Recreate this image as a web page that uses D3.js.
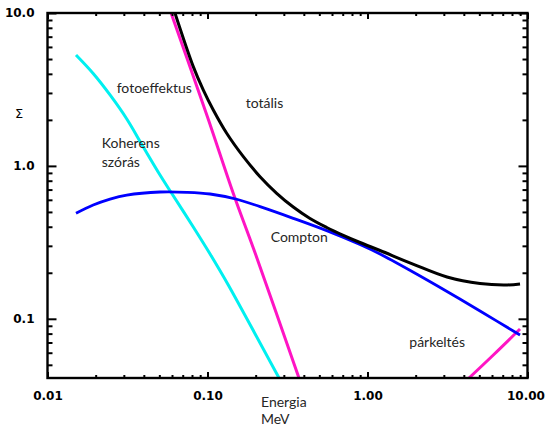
<!DOCTYPE html>
<html>
<head>
<meta charset="utf-8">
<script src="https://cdn.jsdelivr.net/npm/d3@7"></script>
<style>
  html, body { margin: 0; padding: 0; background: #ffffff; }
  svg { display: block; }
</style>
</head>
<body>
<script>
// Energy axis (MeV) and attenuation values (Σ) for each interaction
const comptonE = [0.01507, 0.0193, 0.0246, 0.0313, 0.0505, 0.0741, 0.1038, 0.1523, 0.213, 0.3436, 0.556, 0.8974, 1.197, 1.924, 3.14, 5.05, 8.98];
const comptonV = [0.490, 0.555, 0.607, 0.645, 0.675, 0.672, 0.655, 0.605, 0.541, 0.454, 0.377, 0.306, 0.2653, 0.2023, 0.1509, 0.1125, 0.0783];

const coherentE = [0.01507, 0.0193, 0.0246, 0.0313, 0.0397, 0.0505, 0.0597, 0.0815, 0.1038, 0.1349, 0.280];
const coherentV = [5.31, 4.02, 2.91, 2.026, 1.329, 0.872, 0.662, 0.3986, 0.2653, 0.1663, 0.041];

const photoE = [0.0592, 0.1, 0.145, 0.2, 0.373];
const photoV = [10.0, 2.09, 0.66, 0.263, 0.041];

const pairE = [4.31, 6.14, 8.98];
const pairV = [0.041, 0.0582, 0.0857];

const totalE = [0.0626, 0.0815, 0.0942, 0.1087, 0.1318, 0.1675, 0.213, 0.2707, 0.3436, 0.4372, 0.556, 0.7063, 0.8974, 1.197, 1.924, 3.14, 5.05, 7.23, 8.98];
const totalV = [10.0, 4.46, 3.13, 2.32, 1.634, 1.149, 0.850, 0.662, 0.538, 0.4529, 0.3955, 0.3514, 0.3155, 0.2797, 0.228, 0.1877, 0.170, 0.1663, 0.169];

// Axis ticks and labels
const xTickValues = [0.01, 0.1, 1, 10];
const xTickLabels = ["0.01", "0.10", "1.00", "10.00"];
const yTickValues = [0.1, 1, 10];
const yTickLabels = ["0.1", "1.0", "10.0"];

// Curve annotations, anchored at their left edge in data coordinates
const curveLabels = [
  { text: "fotoeffektus", E: 0.02707, v: 3.22 },
  { text: "totális", E: 0.1734, v: 2.57 },
  { text: "Koherens", E: 0.02183, v: 1.405 },
  { text: "szórás", E: 0.02183, v: 1.065 },
  { text: "Compton", E: 0.2483, v: 0.344 },
  { text: "párkeltés", E: 1.825, v: 0.0708 }
];

const W = 545, H = 428;
const svg = d3.select("body").append("svg").attr("width", W).attr("height", H);

const x = d3.scaleLog().domain([0.01, 10]).range([47.5, 527.5]);
const y = d3.scaleLog().domain([0.041, 10]).range([378, 13]);

// Minor ticks at 2..9 of each decade, within the domain
function minorTicks(scale) {
  const [a, b] = scale.domain();
  const out = [];
  for (let p = -3; p <= 2; p++) {
    for (let m = 2; m <= 9; m++) {
      const v = m * Math.pow(10, p);
      if (v > a * 1.0001 && v < b * 0.9999) out.push(v);
    }
  }
  return out;
}

const x0 = x.range()[0], x1 = x.range()[1];
const y0 = y.range()[0], y1 = y.range()[1];

svg.append("clipPath").attr("id", "plotClip")
  .append("rect")
  .attr("x", x0).attr("y", y1)
  .attr("width", x1 - x0)
  .attr("height", y0 - y1);

const line = d3.line()
  .x(d => x(d[0]))
  .y(d => y(d[1]))
  .curve(d3.curveCatmullRom.alpha(0.5));

const series = [
  { E: coherentE, V: coherentV, color: "#00f0f0", w: 3 },
  { E: photoE, V: photoV, color: "#ff14c4", w: 3 },
  { E: pairE, V: pairV, color: "#ff14c4", w: 3 },
  { E: comptonE, V: comptonV, color: "#0000ff", w: 2.8 },
  { E: totalE, V: totalV, color: "#000000", w: 3 }
];

const curves = svg.append("g").attr("clip-path", "url(#plotClip)");
series.forEach(s => {
  curves.append("path")
    .datum(s.E.map((e, i) => [e, s.V[i]]))
    .attr("fill", "none")
    .attr("stroke", s.color)
    .attr("stroke-width", s.w)
    .attr("stroke-linejoin", "round")
    .attr("d", line);
});

// Axes: ticks point inward on all four sides
function styleAxis(g) {
  g.select(".domain").remove();
  g.selectAll(".tick line").attr("stroke", "#000").attr("stroke-width", 2);
  g.selectAll(".tick text")
    .attr("fill", "#000")
    .style("font-family", "'DejaVu Sans', sans-serif")
    .style("font-weight", "bold")
    .style("font-size", "12px");
}

const xAxisMajor = svg.append("g").attr("transform", `translate(0,${y0})`)
  .call(d3.axisBottom(x).tickValues(xTickValues).tickSizeInner(-6).tickSizeOuter(0)
    .tickPadding(13).tickFormat((d, i) => xTickLabels[i]))
  .call(styleAxis);
// keep the last label inside the page
xAxisMajor.selectAll(".tick text").filter(d => d === 10).attr("dx", -2);

svg.append("g").attr("transform", `translate(0,${y0})`)
  .call(d3.axisBottom(x).tickValues(minorTicks(x)).tickSizeInner(-3).tickSizeOuter(0).tickFormat(""))
  .call(styleAxis);
svg.append("g").attr("transform", `translate(0,${y1})`)
  .call(d3.axisTop(x).tickValues(xTickValues).tickSizeInner(-6).tickSizeOuter(0).tickFormat(""))
  .call(styleAxis);
svg.append("g").attr("transform", `translate(0,${y1})`)
  .call(d3.axisTop(x).tickValues(minorTicks(x)).tickSizeInner(-3).tickSizeOuter(0).tickFormat(""))
  .call(styleAxis);

svg.append("g").attr("transform", `translate(${x0},0)`)
  .call(d3.axisLeft(y).tickValues(yTickValues).tickSizeInner(-9).tickSizeOuter(0)
    .tickPadding(13).tickFormat((d, i) => yTickLabels[i]))
  .call(styleAxis);
svg.append("g").attr("transform", `translate(${x0},0)`)
  .call(d3.axisLeft(y).tickValues(minorTicks(y)).tickSizeInner(-5).tickSizeOuter(0).tickFormat(""))
  .call(styleAxis);
svg.append("g").attr("transform", `translate(${x1},0)`)
  .call(d3.axisRight(y).tickValues(yTickValues).tickSizeInner(-9).tickSizeOuter(0).tickFormat(""))
  .call(styleAxis);
svg.append("g").attr("transform", `translate(${x1},0)`)
  .call(d3.axisRight(y).tickValues(minorTicks(y)).tickSizeInner(-5).tickSizeOuter(0).tickFormat(""))
  .call(styleAxis);

// Plot frame
svg.append("rect")
  .attr("x", x0).attr("y", y1)
  .attr("width", x1 - x0).attr("height", y0 - y1)
  .attr("fill", "none").attr("stroke", "#000").attr("stroke-width", 2.4);

const labelFont = "Lato, 'Open Sans', sans-serif";

// Curve annotations
svg.append("g").selectAll("text").data(curveLabels).join("text")
  .attr("x", d => x(d.E))
  .attr("y", d => y(d.v))
  .attr("dy", "0.35em")
  .attr("fill", "#262626")
  .style("font-family", labelFont)
  .style("font-size", "14px")
  .text(d => d.text);

// Axis titles
const xTitle = svg.append("text")
  .attr("x", 261).attr("y", 402).attr("dy", "0.35em")
  .attr("fill", "#262626")
  .style("font-family", labelFont).style("font-size", "14px");
xTitle.append("tspan").attr("x", 261).text("Energia");
xTitle.append("tspan").attr("x", 261).attr("dy", "1.2em").text("MeV");

svg.append("text")
  .attr("x", 19).attr("y", 113).attr("dy", "0.35em")
  .attr("text-anchor", "middle")
  .attr("fill", "#000")
  .style("font-family", "'DejaVu Sans', sans-serif").style("font-size", "13px")
  .text("Σ");
</script>
</body>
</html>
